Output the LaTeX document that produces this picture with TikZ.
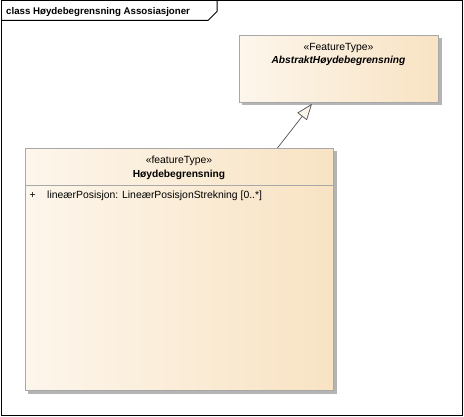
\documentclass[tikz,border=0pt]{standalone}
\usepackage{fontspec}
\setmainfont{Liberation Sans}
\usetikzlibrary{arrows.meta}
\definecolor{boxleft}{HTML}{FDF6EC}
\definecolor{boxright}{HTML}{F8E3C3}
\definecolor{boxline}{HTML}{A8A8A8}
\definecolor{shadowc}{HTML}{B4B4B4}
\definecolor{linec}{HTML}{505050}
\tikzset{
  classbox/.style={draw=boxline, line width=0.9pt, left color=boxleft, right color=boxright, inner sep=0pt, anchor=north west},
  boxshadow/.style={fill=shadowc, draw=none},
  txt/.style={font=\fontsize{10.4}{12}\selectfont, inner sep=0pt, text=black},
  boldtxt/.style={font=\fontsize{10.2}{12}\selectfont\bfseries, inner sep=0pt, text=black},
  gen/.style={draw=linec, line width=0.7pt, -{Triangle[length=16pt,width=12pt,fill=boxleft]}},
}
\begin{document}
\begin{tikzpicture}[x=1pt,y=-1pt]
\useasboundingbox (0,0) rectangle (464,417);
\fill[white] (0,0) rectangle (464,417);
% frame
\draw[black, line width=1pt] (1,1) rectangle (462.5,415.5);
\draw[black, line width=1pt] (1,20.5) -- (208,20.5) -- (217,11.5) -- (217,1);
\node[boldtxt, font=\fontsize{9.7}{11}\selectfont\bfseries, anchor=base west] (title) at (6,15) {class Høydebegrensning Assosiasjoner};
% top box
\fill[boxshadow] (242,38) rectangle (441.5,105.5);
\node[classbox, minimum width=199pt, minimum height=67pt] (a) at (239,35) {};
\node[txt, anchor=base] (ast) at (338.5,50.5) {«FeatureType»};
\node[boldtxt, anchor=base, font=\fontsize{10.2}{12}\selectfont\bfseries\itshape] (aname) at (338.5,64) {AbstraktHøydebegrensning};
% bottom box
\fill[boxshadow] (28,151) rectangle (336.5,393.5);
\node[classbox, minimum width=308pt, minimum height=242pt] (b) at (25,148) {};
\draw[boxline, line width=0.9pt] (b.west |- 0,185) -- (b.east |- 0,185);
\node[txt, anchor=base] (bst) at (179,163.5) {«featureType»};
\node[boldtxt, anchor=base] (bname) at (179,177.5) {Høydebegrensning};
\node[txt, anchor=base west] (plus) at (29.5,198.5) {+};
\node[txt, anchor=base west] (attr) at (47,198.5) {lineærPosisjon: LineærPosisjonStrekning [0..*]};
% generalization
\draw[gen] ([xshift=98pt]b.north) -- ([xshift=-27pt,yshift=-1pt]a.south);
\end{tikzpicture}
\end{document}
